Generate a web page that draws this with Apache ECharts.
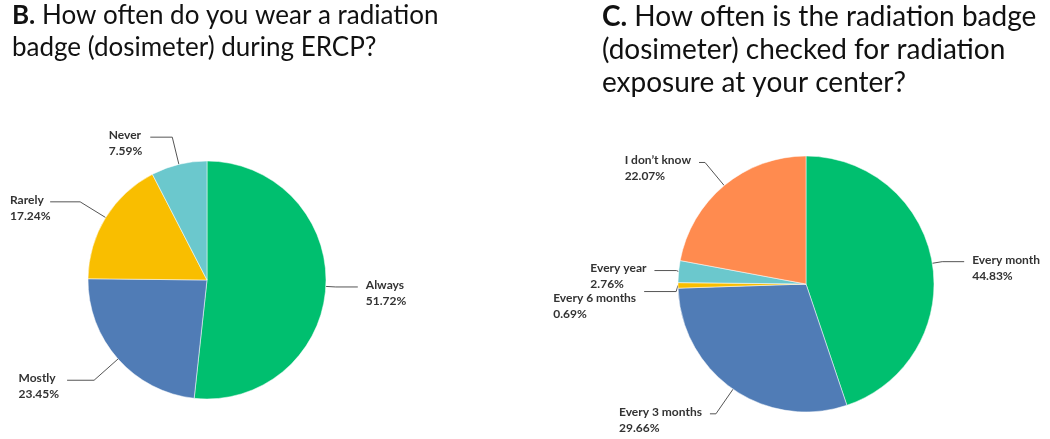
<!DOCTYPE html>
<html>
<head>
<meta charset="utf-8">
<script src="https://cdn.jsdelivr.net/npm/echarts@6/dist/echarts.min.js"></script>
<style>
html,body{margin:0;padding:0;background:#fff;}
#c{width:1050px;height:439px;}
</style>
</head>
<body>
<div id="c"></div>
<script>
// Panel B
const wearCategories = ['Always', 'Mostly', 'Rarely', 'Never'];
const wearValues = [51.72, 23.45, 17.24, 7.59];
const wearColors = ['#00BF6F', '#507CB6', '#F9BE00', '#6BC8CD'];

// Panel C
const checkCategories = ['Every month', 'Every 3 months', 'Every 6 months', 'Every year', "I don’t know"];
const checkValues = [44.83, 29.66, 0.69, 2.76, 22.07];
const checkColors = ['#00BF6F', '#507CB6', '#F9BE00', '#6BC8CD', '#FF8B4F'];

// label-line lengths and label top padding per slice (styling only)
const wearLines = [[10, 22, 12], [32, 27, 12], [30, 30, 12], [28, 22, 12]];
const checkLines = [[10, 22, 12], [30, 6, 12], [10, 32, 30], [10, 22, 12], [30, 6, 12]];

const titleFont = 'Lato, "Open Sans", sans-serif';
const labelFont = 'Lato, "Noto Sans", sans-serif';

function toData(cats, vals, cols, lines) {
  return cats.map((n, i) => ({
    name: n, value: vals[i],
    itemStyle: { color: cols[i] },
    label: { padding: [lines[i][2], 0, 0, 0] },
    labelLine: { length: lines[i][0], length2: lines[i][1] }
  }));
}

const labelCfg = {
  show: true,
  position: 'outside',
  overflow: 'none',
  formatter: p => '{a|' + p.name + '}\n{a|' + p.value.toFixed(2) + '%}',
  padding: [12, 0, 0, 0],
  rich: {
    a: { align: 'left', fontFamily: labelFont, fontWeight: 'bold', fontSize: 12, color: '#333', lineHeight: 16 }
  },
  distanceToLabelLine: 8
};
const lineCfg = { show: true, lineStyle: { color: '#555', width: 1 } };

const chart = echarts.init(document.getElementById('c'), null, { renderer: 'canvas' });
chart.setOption({
  backgroundColor: '#fff',
  animation: false,
  title: [
    {
      text: '{b|B.} How often do you wear a radiation\nbadge (dosimeter) during ERCP?',
      left: 12, top: 0, padding: 0,
      textStyle: {
        fontFamily: titleFont, fontSize: 26, fontWeight: 'normal', color: '#111', lineHeight: 32,
        rich: { b: { fontFamily: titleFont, fontSize: 26, fontWeight: 'bold', color: '#111', lineHeight: 32 } }
      }
    },
    {
      text: '{b|C.} How often is the radiation badge\n(dosimeter) checked for radiation\nexposure at your center?',
      left: 602, top: 0, padding: 0,
      textStyle: {
        fontFamily: titleFont, fontSize: 28, fontWeight: 'normal', color: '#111', lineHeight: 33,
        rich: { b: { fontFamily: titleFont, fontSize: 28, fontWeight: 'bold', color: '#111', lineHeight: 33 } }
      }
    }
  ],
  series: [
    {
      type: 'pie',
      center: [207, 280],
      radius: 119,
      startAngle: 90,
      clockwise: true,
      data: toData(wearCategories, wearValues, wearColors, wearLines),
      itemStyle: { borderColor: '#fff', borderWidth: 0.5 },
      label: labelCfg,
      labelLine: lineCfg,
      emphasis: { disabled: true }
    },
    {
      type: 'pie',
      center: [806, 284],
      radius: 128,
      startAngle: 90,
      clockwise: true,
      data: toData(checkCategories, checkValues, checkColors, checkLines),
      itemStyle: { borderColor: '#fff', borderWidth: 0.5 },
      label: labelCfg,
      labelLine: lineCfg,
      emphasis: { disabled: true }
    }
  ]
});
</script>
</body>
</html>
